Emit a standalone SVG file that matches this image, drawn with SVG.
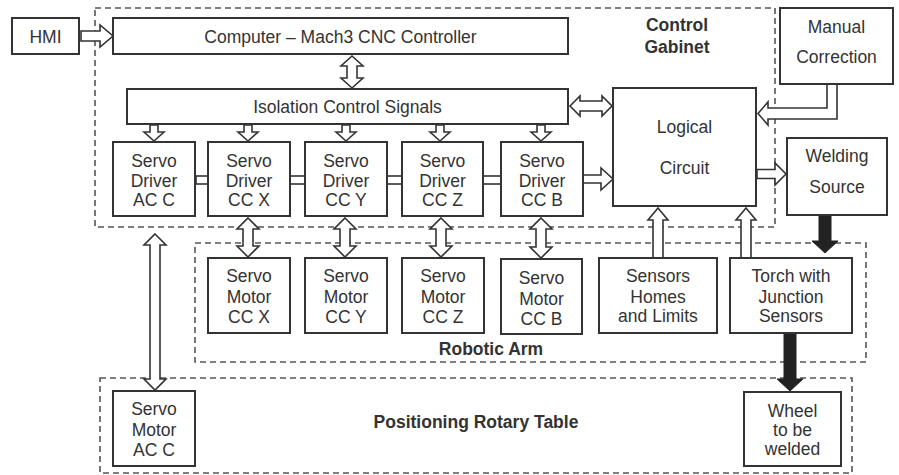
<svg xmlns="http://www.w3.org/2000/svg" width="899" height="475" viewBox="0 0 899 475">
<style>
.box{fill:#fff;stroke:#333;stroke-width:2}
.dash{fill:none;stroke:#555;stroke-width:1.6;stroke-dasharray:6 4}
.t{font-family:"Liberation Sans",Arial,sans-serif;font-size:17.5px;fill:#333;text-anchor:middle}
.b{font-family:"Liberation Sans",Arial,sans-serif;font-size:17.5px;font-weight:bold;fill:#333;text-anchor:middle}
.ha{fill:#fff;stroke:#333;stroke-width:1.6;stroke-linejoin:miter}
.fa{fill:#222;stroke:#222;stroke-width:1}
</style>
<rect width="899" height="475" fill="#fff"/>
<g id="containers">
<rect class="dash" x="95" y="8" width="680" height="219"/>
<rect class="dash" x="195" y="243" width="671" height="119"/>
<rect class="dash" x="100" y="378" width="752" height="95"/>
<text class="b" x="677" y="31">Control</text>
<text class="b" x="677" y="53">Gabinet</text>
<text class="b" x="491" y="355">Robotic Arm</text>
<text class="b" x="476" y="428">Positioning Rotary Table</text>
</g>
<g id="connectors">
<path class="ha" d="M81 31 L100 31 L100 25 L113 36 L100 47 L100 41 L81 41 Z"/>
<path class="ha" d="M352 56 L363 66 L357 66 L357 78 L363 78 L352 88 L341 78 L347 78 L347 66 L341 66 Z"/>
<path class="ha" d="M570 106 L580 96 L580 101 L602 101 L602 96 L612 106 L602 116 L602 111 L580 111 L580 116 Z"/>
<path class="ha" d="M837 85 L837 119 L768 119 L768 125 L758 113.5 L768 102 L768 108 L827 108 L827 85"/>
<path class="ha" d="M150 125 L158 125 L158 132 L164 132 L154 141 L144 132 L150 132 Z"/>
<path class="ha" d="M244 125 L252 125 L252 132 L258 132 L248 141 L238 132 L244 132 Z"/>
<path class="ha" d="M342 125 L350 125 L350 132 L356 132 L346 141 L336 132 L342 132 Z"/>
<path class="ha" d="M436 125 L444 125 L444 132 L450 132 L440 141 L430 132 L436 132 Z"/>
<path class="ha" d="M537 125 L545 125 L545 132 L551 132 L541 141 L531 132 L537 132 Z"/>
<rect class="ha" x="196" y="176" width="12" height="8"/>
<rect class="ha" x="290" y="176" width="15" height="8"/>
<rect class="ha" x="387" y="176" width="15" height="8"/>
<rect class="ha" x="483" y="176" width="18" height="8"/>
<path class="ha" d="M583 175 L601 175 L601 168 L613 179 L601 190 L601 183 L583 183 Z"/>
<path class="ha" d="M757 169.5 L775 169.5 L775 163 L786 174 L775 185 L775 178.5 L757 178.5 Z"/>
<path class="ha" d="M248 218 L259 229 L253 229 L253 246 L259 246 L248 257 L237 246 L243 246 L243 229 L237 229 Z"/>
<path class="ha" d="M345 218 L356 229 L350 229 L350 246 L356 246 L345 257 L334 246 L340 246 L340 229 L334 229 Z"/>
<path class="ha" d="M441 218 L452 229 L446 229 L446 246 L452 246 L441 257 L430 246 L436 246 L436 229 L430 229 Z"/>
<path class="ha" d="M541 218 L552 229 L546 229 L546 247 L552 247 L541 258 L530 247 L536 247 L536 229 L530 229 Z"/>
<path class="ha" d="M658 208 L668 220 L663 220 L663 258 L653 258 L653 220 L648 220 Z"/>
<path class="ha" d="M746 208 L756 220 L751 220 L751 258 L741 258 L741 220 L736 220 Z"/>
<path class="ha" d="M155 234 L166 245 L160 245 L160 379 L166 379 L155 390 L144 379 L150 379 L150 245 L144 245 Z"/>
<path class="fa" d="M819 215 L831 215 L831 241 L838 241 L825 253 L812 241 L819 241 Z"/>
<path class="fa" d="M784 333 L796 333 L796 379 L803 379 L790 391 L777 379 L784 379 Z"/>
</g>
<g id="hmi"><rect class="box" x="12" y="18" width="67" height="36"/><text class="t" x="45.5" y="43">HMI</text></g>
<g id="computer"><rect class="box" x="113" y="18" width="455" height="36"/><text class="t" x="340.5" y="43">Computer – Mach3 CNC Controller</text></g>
<g id="isolation"><rect class="box" x="127" y="89" width="441" height="35"/><text class="t" x="347.5" y="113">Isolation Control Signals</text></g>
<g id="manual"><rect class="box" x="780" y="8" width="113" height="76"/><text class="t" x="836.5" y="33">Manual</text><text class="t" x="836.5" y="63">Correction</text></g>
<g id="logical"><rect class="box" x="613" y="88" width="143" height="118"/><text class="t" x="684.5" y="133">Logical</text><text class="t" x="684.5" y="174">Circuit</text></g>
<g id="welding"><rect class="box" x="787" y="138" width="100" height="77"/><text class="t" x="837" y="162">Welding</text><text class="t" x="837" y="193">Source</text></g>
<g id="driver-acc"><rect class="box" x="113" y="142" width="82" height="74"/><text class="t" x="154" y="167">Servo</text><text class="t" x="154" y="187">Driver</text><text class="t" x="154" y="206">AC C</text></g>
<g id="driver-ccx"><rect class="box" x="208" y="142" width="82" height="74"/><text class="t" x="249" y="167">Servo</text><text class="t" x="249" y="187">Driver</text><text class="t" x="249" y="206">CC X</text></g>
<g id="driver-ccy"><rect class="box" x="305" y="142" width="82" height="74"/><text class="t" x="346" y="167">Servo</text><text class="t" x="346" y="187">Driver</text><text class="t" x="346" y="206">CC Y</text></g>
<g id="driver-ccz"><rect class="box" x="402" y="142" width="81" height="74"/><text class="t" x="442.5" y="167">Servo</text><text class="t" x="442.5" y="187">Driver</text><text class="t" x="442.5" y="206">CC Z</text></g>
<g id="driver-ccb"><rect class="box" x="501" y="142" width="82" height="74"/><text class="t" x="542" y="167">Servo</text><text class="t" x="542" y="187">Driver</text><text class="t" x="542" y="206">CC B</text></g>
<g id="motor-ccx"><rect class="box" x="208" y="258" width="82" height="75"/><text class="t" x="249" y="282">Servo</text><text class="t" x="249" y="303">Motor</text><text class="t" x="249" y="323">CC X</text></g>
<g id="motor-ccy"><rect class="box" x="305" y="258" width="82" height="75"/><text class="t" x="346" y="282">Servo</text><text class="t" x="346" y="303">Motor</text><text class="t" x="346" y="323">CC Y</text></g>
<g id="motor-ccz"><rect class="box" x="402" y="258" width="82" height="75"/><text class="t" x="443" y="282">Servo</text><text class="t" x="443" y="303">Motor</text><text class="t" x="443" y="323">CC Z</text></g>
<g id="motor-ccb"><rect class="box" x="501" y="259" width="81" height="75"/><text class="t" x="541.5" y="284">Servo</text><text class="t" x="541.5" y="305">Motor</text><text class="t" x="541.5" y="325">CC B</text></g>
<g id="sensors"><rect class="box" x="599" y="258" width="118" height="75"/><text class="t" x="658" y="282">Sensors</text><text class="t" x="658" y="303">Homes</text><text class="t" x="658" y="322">and Limits</text></g>
<g id="torch"><rect class="box" x="730" y="258" width="122" height="75"/><text class="t" x="791" y="282">Torch with</text><text class="t" x="791" y="303">Junction</text><text class="t" x="791" y="322">Sensors</text></g>
<g id="motor-acc"><rect class="box" x="113" y="391" width="82" height="75"/><text class="t" x="154" y="415">Servo</text><text class="t" x="154" y="436">Motor</text><text class="t" x="154" y="456">AC C</text></g>
<g id="wheel"><rect class="box" x="744" y="392" width="97" height="74"/><text class="t" x="792.5" y="417">Wheel</text><text class="t" x="792.5" y="436">to be</text><text class="t" x="792.5" y="455">welded</text></g>
</svg>
